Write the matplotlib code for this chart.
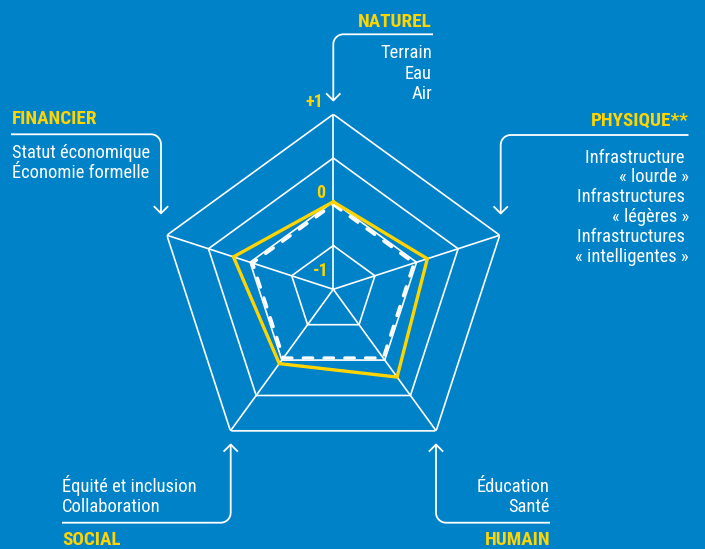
import numpy as np
import matplotlib
matplotlib.use("Agg")
import matplotlib.pyplot as plt
from matplotlib import font_manager

W, H, DPI = 705, 549, 100
BLUE = "#0082C9"
YELLOW = "#FFD400"
WHITE = "#FFFFFF"

# Capital dimensions, clockwise from the top
dimensions = ["NATUREL", "PHYSIQUE**", "HUMAIN", "SOCIAL", "FINANCIER"]
profile_values = [0.0, 0.13, 0.24, 0.05, 0.20]      # solid yellow line
baseline_values = [-0.03, -0.03, -0.03, -0.03, -0.03]  # dashed white line
ring_levels = [-0.5, 0.0, 0.5, 1.0]
scale_values = [-1, 0, 1]
scale_labels = ["-1", "0", "+1"]

# Sub-components listed under each dimension
details = {
    "NATUREL": ["Terrain", "Eau", "Air"],
    "PHYSIQUE**": ["Infrastructure ", "« lourde »", "Infrastructures ",
                   "« légères »", "Infrastructures ", "« intelligentes »"],
    "HUMAIN": ["Éducation", "Santé"],
    "SOCIAL": ["Équité et inclusion", "Collaboration"],
    "FINANCIER": ["Statut économique", "Économie formelle"],
}

installed = {f.name for f in font_manager.fontManager.ttflist}


def pick(*names):
    for n in names:
        if n in installed:
            return n
    return "DejaVu Sans"


BODY = pick("Roboto Condensed", "Liberation Sans Narrow", "Roboto", "Open Sans")
HEAD = pick("Roboto Condensed", "Liberation Sans Narrow", "Roboto", "Open Sans")

fig = plt.figure(figsize=(W / DPI, H / DPI), dpi=DPI, facecolor=BLUE)

# Radar axes: centre at (333, 289) px, outer radius 175 px
cx, cy, R = 333.3, 289.3, 175.0
ax = fig.add_axes([(cx - R) / W, 1 - (cy + R) / H, 2 * R / W, 2 * R / H],
                  projection="polar")
ax.set_theta_offset(np.pi / 2)
ax.set_theta_direction(-1)
ax.set_ylim(-1, 1)
ax.grid(False)
ax.set_xticks([])
ax.set_yticks([])
ax.spines["polar"].set_visible(False)
ax.patch.set_alpha(0)

n = len(dimensions)
theta = np.arange(n) * 2 * np.pi / n
theta_c = np.append(theta, theta[0])

for lvl in ring_levels:
    ax.plot(theta_c, [lvl] * (n + 1), color=WHITE, lw=1.2, zorder=1)
for t in theta:
    ax.plot([t, t], [-1, 1], color=WHITE, lw=1.2, zorder=1)

ax.plot(theta_c, baseline_values + baseline_values[:1], color=WHITE, lw=2.3,
        dashes=(3.0, 3.5), dash_capstyle="round", zorder=3)
ax.plot(theta_c, profile_values + profile_values[:1], color=YELLOW, lw=2.4,
        zorder=4, solid_joinstyle="miter")

# Scale labels along the top spoke
offsets = {-1: (-13, 18), 0: (-13, 9), 1: (-19, 12)}
for v, lab in zip(scale_values, scale_labels):
    dx, dy = offsets[v]
    ax.annotate(lab, xy=(0, v), xytext=(dx, dy), textcoords="offset pixels",
                ha="center", va="center", color=YELLOW, fontsize=13,
                fontweight="bold", family=HEAD, annotation_clip=False)


def fx(x):
    return x / W


def fy(y):
    return 1 - y / H


def leader(start, xc, tip, up):
    """Horizontal rule, rounded corner, vertical run ending in an open arrow."""
    x0, y0 = start
    r = 10.0
    xs, ys = [x0], [y0]
    sgn_x = 1 if xc > x0 else -1
    sgn_y = -1 if up else 1
    xs.append(xc - sgn_x * r)
    ys.append(y0)
    for ang in np.linspace(0, np.pi / 2, 12):
        xs.append(xc - sgn_x * r + sgn_x * r * np.sin(ang))
        ys.append(y0 + sgn_y * r * (1 - np.cos(ang)))
    xs.append(xc)
    ys.append(tip)
    fig.add_artist(plt.Line2D([fx(v) for v in xs], [fy(v) for v in ys],
                              transform=fig.transFigure, color=WHITE, lw=1.3,
                              solid_capstyle="butt"))
    d = 6.5
    hx = [xc - d, xc, xc + d]
    hy = [tip - sgn_y * d, tip, tip - sgn_y * d]
    fig.add_artist(plt.Line2D([fx(v) for v in hx], [fy(v) for v in hy],
                              transform=fig.transFigure, color=WHITE, lw=1.3))


leader((433, 34.3), 333.3, 100.5, up=False)
leader((11, 134.3), 161, 213.3, up=False)
leader((688.5, 135), 500.7, 213.5, up=False)
leader((62, 522.7), 230.7, 444.5, up=True)
leader((550, 522.7), 436, 444.5, up=True)

TS = 13.8
BS = 13.3
layout = {
    "NATUREL": (432, "right", 27.3, [58.3, 78.8, 99.0]),
    "FINANCIER": (12, "left", 124.0, [158.5, 177.8]),
    "PHYSIQUE**": (689, "right", 126.0, [162.5, 182.3, 202.1, 221.9, 241.7, 261.5]),
    "SOCIAL": (62, "left", 545.0, [491.7, 511.7]),
    "HUMAIN": (550, "right", 545.0, [491.7, 511.7]),
}
for name in dimensions:
    x, ha, yb, lines_y = layout[name]
    fig.text(fx(x), fy(yb), name, ha=ha, va="baseline", color=YELLOW,
             fontsize=TS, fontweight="bold", family=HEAD)
    for txt, ly in zip(details[name], lines_y):
        fig.text(fx(x), fy(ly), txt, ha=ha, va="baseline", color=WHITE,
                 fontsize=BS, family=BODY)

fig.savefig("out.png", dpi=DPI, facecolor=BLUE)
